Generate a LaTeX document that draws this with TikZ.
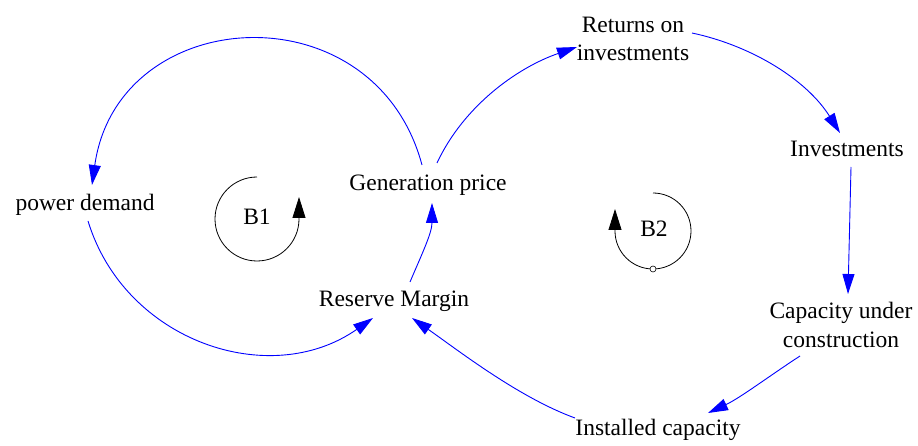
\documentclass[tikz,border=0pt]{standalone}
\usepackage{fontspec}
\setmainfont{Liberation Serif}
\usetikzlibrary{arrows.meta}
\begin{document}
\begin{tikzpicture}[x=1pt,y=1pt,
  lbl/.style={font=\fontsize{23.5}{28.5}\selectfont, inner sep=0pt, text height=16pt, text depth=5pt},
  lbltwo/.style={font=\fontsize{23.5}{28.5}\selectfont, inner sep=0pt, align=center},
  link/.style={draw=blue, line width=0.9pt, -{Triangle[length=20pt,width=12pt]}},
  loopline/.style={draw=black, line width=0.8pt, -{Triangle[length=21pt,width=13pt]}}]
\useasboundingbox (0,0) rectangle (918,-446);
% variables
\node[lbl] (pd) at (85,-205) {power demand};
\node[lbl] (gp) at (428,-185) {Generation price};
\node[lbl] (rm) at (394,-301) {Reserve Margin};
\node[lbltwo] (roi) at (633,-39) {Returns on\\investments};
\node[lbl] (inv) at (847,-151) {Investments};
\node[lbltwo] (cuc) at (841,-325) {Capacity under\\construction};
\node[lbl] (ic) at (658,-430) {Installed capacity};
\node[lbl] (b1) at (257,-219) {B1};
\node[lbl] (b2) at (654,-231) {B2};
% links
\draw[link] ([shift={(-6,20)}]gp.center) .. controls +(105:184) and +(82:184) .. ([shift={(7,20)}]pd.center);
\draw[link] ([shift={(3,-16)}]pd.center) .. controls +(287:126) and +(215:126) .. ([shift={(-21,-17)}]rm.center);
\draw[link] ([shift={(16,19)}]rm.center) .. controls +(67:30) and +(270:30) .. ([shift={(4,-18)}]gp.center);
\draw[link] ([shift={(9,22)}]gp.center) .. controls +(65:63) and +(199:63) .. ([shift={(-56,-8)}]roi.center);
\draw[link] ([shift={(59,6)}]roi.center) .. controls +(-12:62) and +(122:62) .. ([shift={(-7,18)}]inv.center);
\draw[link] ([shift={(4,-16)}]inv.center) -- ([shift={(7,31)}]cuc.center);
\draw[link] ([shift={(-41,-31)}]cuc.center) .. controls +(213:35) and +(25:35) .. ([shift={(50,17)}]ic.center);
\draw[link] ([shift={(-83,12)}]ic.center) .. controls +(160:60) and +(-35:55) .. ([shift={(18,-17)}]rm.center);
% loop markers
\draw[loopline] ([shift={(0,42)}]b1.center) arc[start angle=90,end angle=360,radius=42] -- ++(0,22);
\draw[loopline] ([shift={(-1,38)}]b2.center) arc[start angle=90,end angle=-180,radius=38] -- ++(0,22);
\draw[fill=white, line width=0.6pt] ([shift={(-1,-38)}]b2.center) circle[radius=3];
\end{tikzpicture}
\end{document}
